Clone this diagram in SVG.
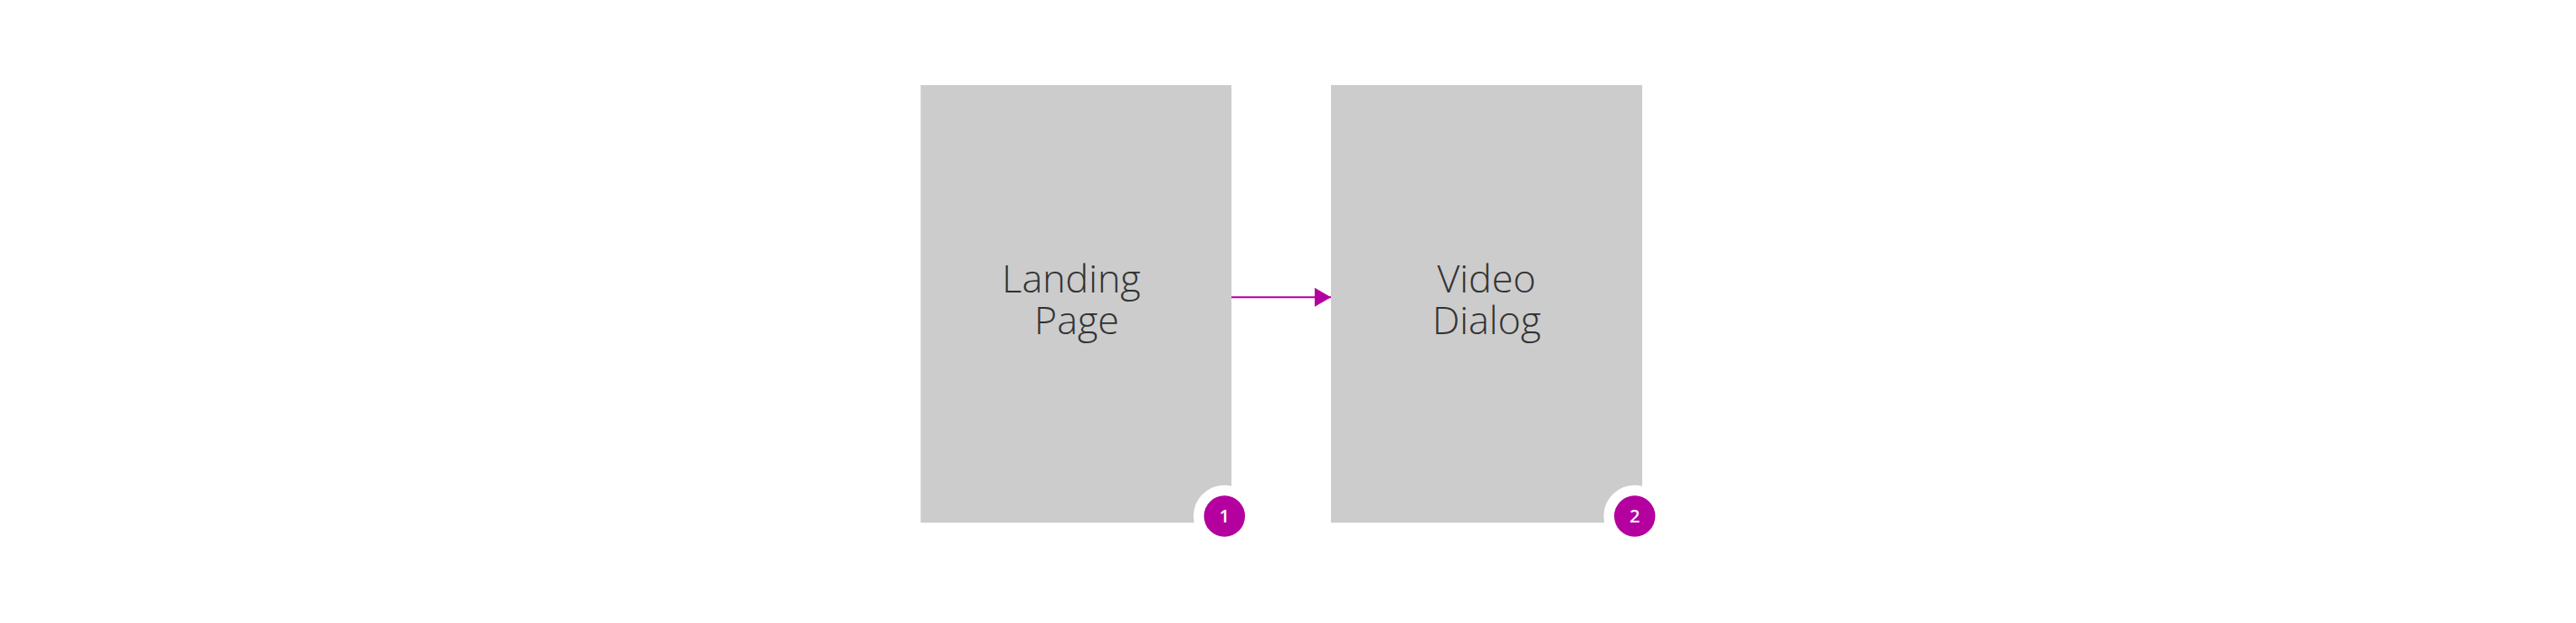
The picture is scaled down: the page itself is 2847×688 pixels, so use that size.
<svg xmlns="http://www.w3.org/2000/svg" width="2847" height="688" viewBox="0 0 2847 688">
<style>
.page{fill:#cccccc}
.lbl{font-family:"Open Sans","Liberation Sans",sans-serif;font-weight:300;font-size:43px;fill:#333333;text-anchor:middle}
.ring{fill:#ffffff}
.badge{fill:#b4009e}
.num{font-family:"Open Sans","Liberation Sans",sans-serif;font-weight:600;font-size:20px;fill:#ffffff;text-anchor:middle}
.conn{stroke:#b4009e;stroke-width:2;fill:none}
</style>
<defs>
<marker id="arrow" markerUnits="userSpaceOnUse" markerWidth="18" markerHeight="22" refX="18" refY="10.5" orient="auto">
<path d="M0,0 L18,10.5 L0,21 Z" fill="#b4009e"/>
</marker>
</defs>
<rect width="2847" height="688" fill="#ffffff"/>
<g id="connectors">
<line class="conn" x1="1361" y1="328.3" x2="1471" y2="328.3" marker-end="url(#arrow)"/>
</g>
<g id="node-landing-page">
<rect class="page" x="1017.5" y="94" width="343.5" height="483.3"/>
<text class="lbl" x="1184" y="322.7">Landing</text>
<text class="lbl" x="1190" y="369.3">Page</text>
<circle class="ring" cx="1353.3" cy="570" r="34.3"/>
<circle class="badge" cx="1353.3" cy="570" r="22.7"/>
<text class="num" x="1353.3" y="577">1</text>
</g>
<g id="node-video-dialog">
<rect class="page" x="1471" y="94" width="344" height="483.3"/>
<text class="lbl" x="1643" y="322.7">Video</text>
<text class="lbl" x="1643" y="369.3">Dialog</text>
<circle class="ring" cx="1806.7" cy="570" r="34.3"/>
<circle class="badge" cx="1806.7" cy="570" r="22.7"/>
<text class="num" x="1806.7" y="577">2</text>
</g>
</svg>
